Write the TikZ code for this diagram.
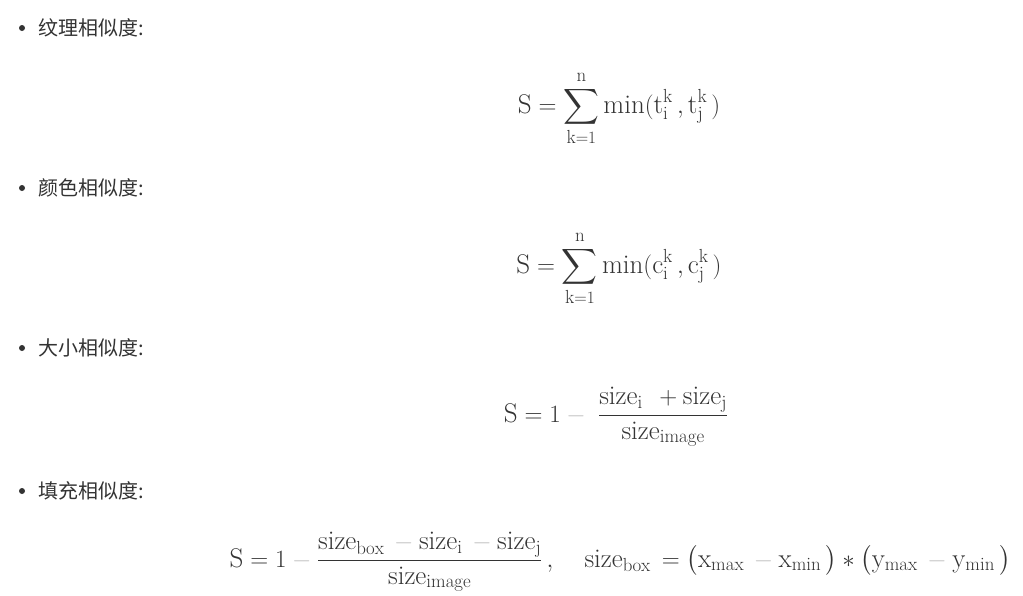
\documentclass[tikz,border=0pt]{standalone}
\usepackage{amsmath}
\usepackage{fontspec}
\newfontfamily\cjk{Noto Sans CJK SC}
\definecolor{txt}{HTML}{333333}
\definecolor{mn}{HTML}{C4C4C4}
\newcommand{\gmin}{\mathbin{\textcolor{mn}{-}}}
\tikzset{
  bulletdot/.style={circle,fill=txt,inner sep=0pt,minimum size=6pt},
  lbl/.style={anchor=west,inner sep=0pt,text=txt,font=\cjk\fontsize{20}{23}\selectfont},
  formula/.style={anchor=base,inner sep=0pt,text=txt,font=\fontsize{27}{32}\selectfont}
}
\begin{document}
\begin{tikzpicture}[x=1pt,y=-1pt]
\useasboundingbox[fill=white] (0,0) rectangle (1023,595);
% bullets and labels
\node[bulletdot] (b1) at (22,28) {};
\node[lbl] (t1) at (38,28) {纹理相似度:};
\node[bulletdot] (b2) at (22,188) {};
\node[lbl] (t2) at (38,188) {颜色相似度:};
\node[bulletdot] (b3) at (22,348) {};
\node[lbl] (t3) at (38,348) {大小相似度:};
\node[bulletdot] (b4) at (22,491) {};
\node[lbl] (t4) at (38,491) {填充相似度:};
% formulas
\node[formula] (f1) at (619,113) {$\displaystyle \mathrm{S}=\sum_{\mathrm{k}=1}^{\mathrm{n}}\min(\mathrm{t}_{\mathrm{i}}^{\mathrm{k}}\,,\mathrm{t}_{\mathrm{j}}^{\mathrm{k}}\,)$};
\node[formula] (f2) at (619,273) {$\displaystyle \mathrm{S}=\sum_{\mathrm{k}=1}^{\mathrm{n}}\min(\mathrm{c}_{\mathrm{i}}^{\mathrm{k}}\,,\mathrm{c}_{\mathrm{j}}^{\mathrm{k}}\,)$};
\node[formula] (f3) at (616,422) {$\displaystyle \mathrm{S}=1\gmin\;\frac{\mathrm{size}_{\mathrm{i}}\;\,+\mathrm{size}_{\mathrm{j}}}{\mathrm{size}_{\mathrm{image}}}$};
\node[formula] (f4) at (620,567) {$\displaystyle \mathrm{S}=1\gmin\frac{\mathrm{size}_{\mathrm{box}}\,\gmin\mathrm{size}_{\mathrm{i}}\,\gmin\mathrm{size}_{\mathrm{j}}}{\mathrm{size}_{\mathrm{image}}}\,,\quad \mathrm{size}_{\mathrm{box}}\,=\bigl(\mathrm{x}_{\mathrm{max}}\,\gmin\mathrm{x}_{\mathrm{min}}\,\bigr)*\bigl(\mathrm{y}_{\mathrm{max}}\,\gmin\mathrm{y}_{\mathrm{min}}\,\bigr)$};
\end{tikzpicture}
\end{document}
